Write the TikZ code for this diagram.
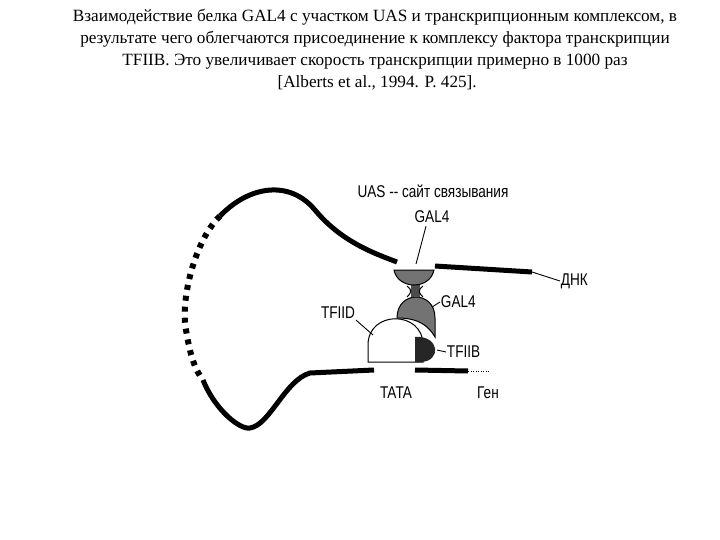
\documentclass[tikz,border=0pt]{standalone}
\usepackage{fontspec}
\setmainfont{Liberation Serif}
\newfontfamily\lab{Liberation Sans}
\begin{document}
\begin{tikzpicture}[x=1pt,y=-1pt,
 dna/.style={line width=5pt},
 lbl/.style={font=\lab\fontsize{17}{17}\selectfont,inner sep=1pt,xscale=0.8},
 lead/.style={line width=0.9pt}]
\useasboundingbox (0,0) rectangle (720,540);
\node[align=center,font=\fontsize{17.2}{22}\selectfont] (title) at (375,50)
 {Взаимодействие белка GAL4 с участком UAS и транскрипционным комплексом, в\\
  результате чего облегчаются присоединение к комплексу фактора транскрипции\\
  TFIIB. Это увеличивает скорость транскрипции примерно в 1000 раз\\{}
  [Alberts et al., 1994. P. 425].};
% DNA upper
\coordinate (u0) at (220,216);
\coordinate (u1) at (397,262);
\draw[dna] (u0) .. controls (250,185) and (290,180) .. (315,210) .. controls (340,240) and (370,252) .. (u1);
\coordinate (u2) at (435,266);
\coordinate (u3) at (532,272);
\draw[dna] (u2) -- (u3);
% dotted
\draw[line width=6pt,dash pattern=on 5pt off 6pt] (u0) .. controls (195,240) and (180,300) .. (186,330) .. controls (190,355) and (195,370) .. (203,380);
% lower
\coordinate (l0) at (203,380);
\coordinate (l1) at (374,370);
\draw[dna] (l0) .. controls (215,410) and (240,430) .. (250,428) .. controls (270,425) and (285,380) .. (310,373) -- (l1);
\coordinate (l2) at (415,370);
\coordinate (l3) at (468,371);
\draw[dna] (l2) -- (l3);
\draw[line width=0.5pt,dotted] (l3) -- (490,371);
% proteins
\filldraw[fill=white,line width=1pt] (368,362) -- (368,345) .. controls (368,310) and (423,310) .. (423,345) -- (423,362) -- cycle;
\fill[black!85] (415,337) .. controls (440,335) and (442,362) .. (420,362) -- (415,362) -- cycle;
\filldraw[fill=black!55,draw=black,line width=1pt] (397,318) .. controls (397,290) and (435,290) .. (435,318) -- (435,337) .. controls (425,320) and (410,318) .. (397,318) -- cycle;
\fill[black!70] (411,297) rectangle (420,284);
\filldraw[fill=black!55,draw=black,line width=1pt] (394,270) -- (434,270) .. controls (430,290) and (398,290) .. (394,270) -- cycle;
\draw[line width=1pt] (407,286) .. controls (412,290) and (412,292) .. (407,297);
\draw[line width=1pt] (423,286) .. controls (418,290) and (418,292) .. (423,297);
% labels
\node[lbl] (uas) at (433,191) {UAS -- сайт связывания};
\node[lbl] (gt) at (432,217) {GAL4};
\coordinate (gtp) at (416,264);
\draw[lead] (gt.south) ++(-6,2) coordinate (gts) -- (gtp);
\node[lbl,anchor=west] (gb) at (440,302) {GAL4};
\coordinate (gbp) at (432,307);
\draw[lead] (gb.west) -- (gbp);
\node[lbl] (td) at (338,313) {TFIID};
\coordinate (tdp) at (373,335);
\draw[lead] (td.south east) -- (tdp);
\node[lbl,anchor=west] (tb) at (446,352) {TFIIB};
\coordinate (tbp) at (437,350);
\draw[lead] (tb.west) -- (tbp);
\node[lbl,anchor=west] (dnk) at (560,281) {ДНК};
\draw[lead] (u3) -- (dnk.west);
\node[lbl] (tata) at (396,393) {TATA};
\node[lbl] (gen) at (488,393) {Ген};
\end{tikzpicture}
\end{document}
